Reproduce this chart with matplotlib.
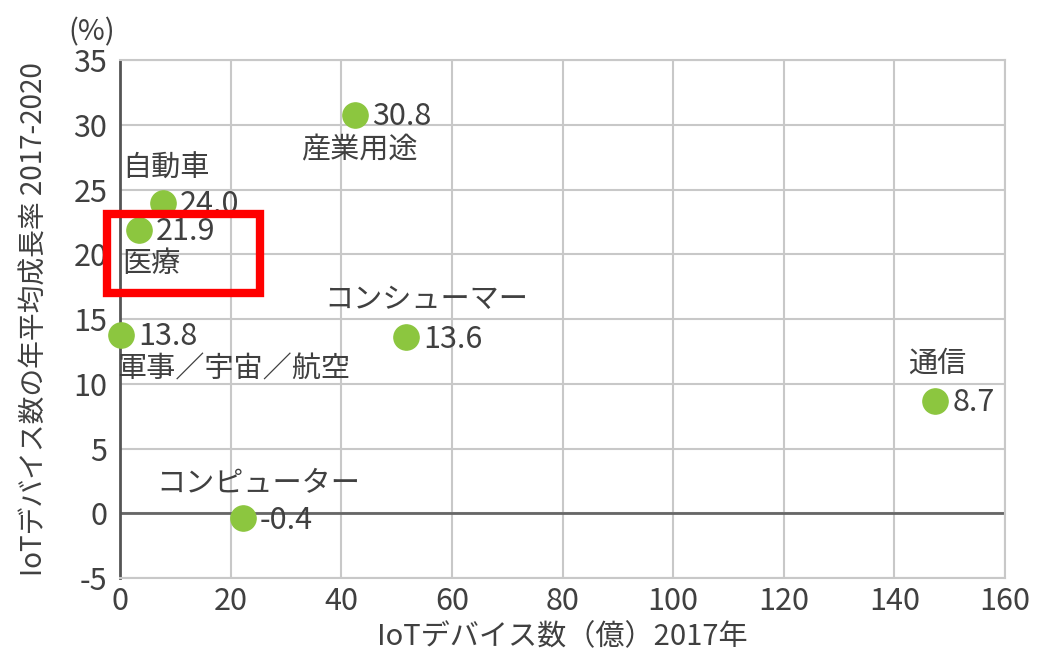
import matplotlib.pyplot as plt
from matplotlib.patches import Rectangle

plt.rcParams['font.family'] = ['Noto Sans CJK JP', 'DejaVu Sans']
plt.rcParams['axes.unicode_minus'] = False

# data
names = ['産業用途', '自動車', '医療', '軍事／宇宙／航空', 'コンシューマー', '通信', 'コンピューター']
devices = [42.5, 7.8, 3.4, 0.2, 51.7, 147.4, 22.2]
growth = [30.8, 24.0, 21.9, 13.8, 13.6, 8.7, -0.4]

# label placement (offset pixels from the point), cosmetic only
name_pos = [(4, -36, 'center'), (-41, 34, 'left'), (-17, -34, 'left'), (-4, -35, 'left'),
            (20, 37, 'center'), (2, 37, 'center'), (15, 34, 'center')]

txt = '#404040'
green = '#8cc63f'

fig = plt.figure(figsize=(10.37, 6.62), dpi=100)
ax = fig.add_axes([0.1157, 0.127, 0.8535, 0.782])

ax.set_xlim(0, 160)
ax.set_ylim(-5, 35)
ax.set_xticks(range(0, 161, 20))
ax.set_yticks(range(-5, 36, 5))
ax.grid(True, color='#c8c8c8', lw=1.5)
ax.set_axisbelow(True)
ax.axhline(0, color='#666666', lw=2, zorder=1)

for s in ['top', 'right', 'bottom']:
    ax.spines[s].set_color('#c8c8c8')
    ax.spines[s].set_linewidth(1.5)
ax.spines['left'].set_color('#555555')
ax.spines['left'].set_linewidth(2)
ax.tick_params(length=0, labelsize=22, labelcolor=txt)
ax.tick_params(axis='y', pad=9)
ax.tick_params(axis='x', pad=6)

ax.scatter(devices, growth, s=330, color=green, zorder=3, clip_on=False)

for n, x, y, (dx, dy, ha) in zip(names, devices, growth, name_pos):
    ax.annotate(f'{y:.1f}', (x, y), xytext=(17, -2), textcoords='offset pixels',
                ha='left', va='center', fontsize=22, color=txt)
    ax.annotate(n, (x, y), xytext=(dx, dy), textcoords='offset pixels',
                ha=ha, va='center', fontsize=21, color=txt)

ax.set_xlabel('IoTデバイス数（億）2017年', fontsize=21, color=txt)
ax.xaxis.set_label_coords(0.5, -0.085)
ax.set_ylabel('IoTデバイス数の年平均成長率 2017-2020', fontsize=20, color=txt)
ax.yaxis.set_label_coords(-0.08, 0.5)
ax.text(-0.058, 1.025, '(%)', transform=ax.transAxes, fontsize=21, color=txt,
        ha='left', va='bottom')

# highlight box around 医療
ax.add_patch(Rectangle((-2.3, 17.0), 27.6, 6.1, fill=False, edgecolor='#ff0000',
                       lw=6, clip_on=False, zorder=4))

fig.savefig('out.png', dpi=100)
